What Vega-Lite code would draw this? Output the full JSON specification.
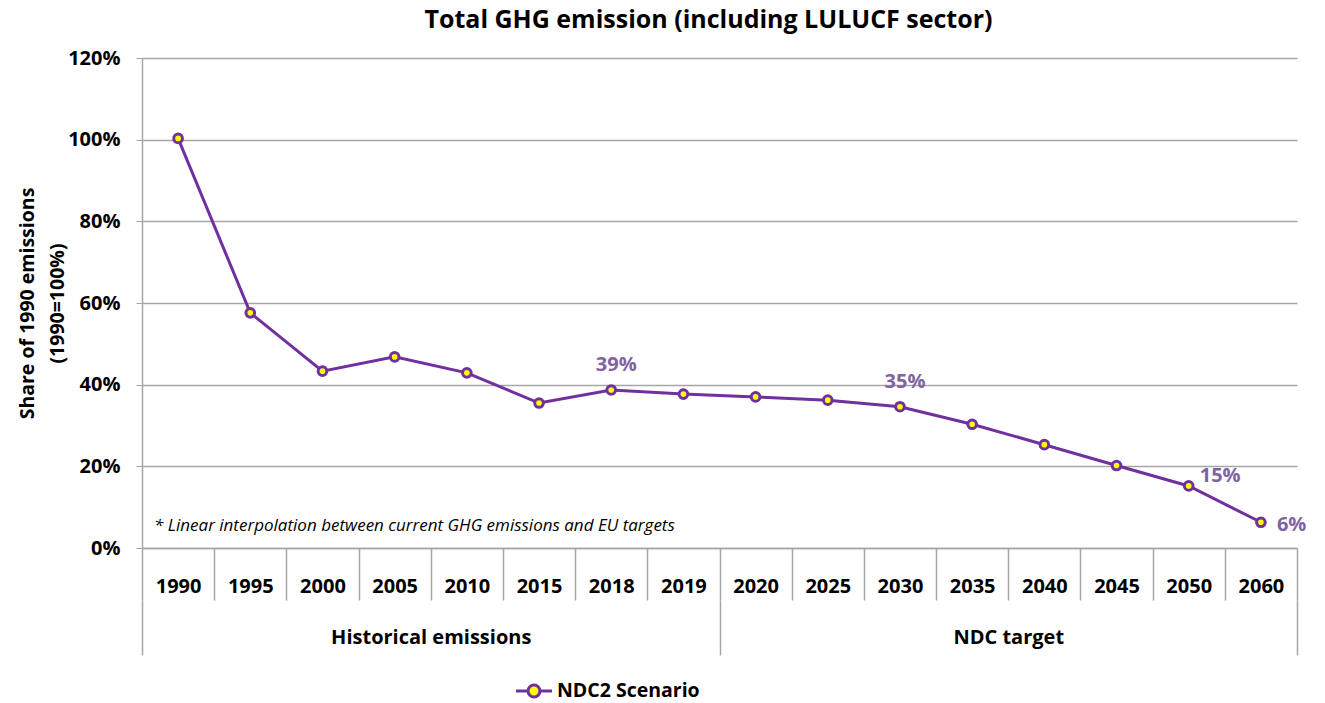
{
  "$schema": "https://vega.github.io/schema/vega-lite/v6.json",
  "width": 1155,
  "height": 490,
  "autosize": {"type": "none"},
  "padding": {"left": 142, "top": 58, "right": 28, "bottom": 155},
  "background": "white",
  "config": {
    "font": "Open Sans",
    "view": {"stroke": null},
    "axis": {"labelFont": "Open Sans", "titleFont": "Open Sans"},
    "legend": {"labelFont": "Open Sans"}
  },
  "title": {
    "text": "Total GHG emission (including LULUCF sector)",
    "font": "Open Sans",
    "fontSize": 25,
    "fontWeight": "bold",
    "color": "#000000",
    "anchor": "middle",
    "offset": 15,
    "dx": -11
  },
  "datasets": {
    "main": [
      {"year": "1990", "share": 1.003, "series": "NDC2 Scenario", "label": null},
      {"year": "1995", "share": 0.576, "series": "NDC2 Scenario", "label": null},
      {"year": "2000", "share": 0.433, "series": "NDC2 Scenario", "label": null},
      {"year": "2005", "share": 0.468, "series": "NDC2 Scenario", "label": null},
      {"year": "2010", "share": 0.429, "series": "NDC2 Scenario", "label": null},
      {"year": "2015", "share": 0.355, "series": "NDC2 Scenario", "label": null},
      {"year": "2018", "share": 0.387, "series": "NDC2 Scenario", "label": "39%"},
      {"year": "2019", "share": 0.377, "series": "NDC2 Scenario", "label": null},
      {"year": "2020", "share": 0.370, "series": "NDC2 Scenario", "label": null},
      {"year": "2025", "share": 0.362, "series": "NDC2 Scenario", "label": null},
      {"year": "2030", "share": 0.346, "series": "NDC2 Scenario", "label": "35%"},
      {"year": "2035", "share": 0.303, "series": "NDC2 Scenario", "label": null},
      {"year": "2040", "share": 0.253, "series": "NDC2 Scenario", "label": null},
      {"year": "2045", "share": 0.202, "series": "NDC2 Scenario", "label": null},
      {"year": "2050", "share": 0.152, "series": "NDC2 Scenario", "label": "15%"},
      {"year": "2060", "share": 0.063, "series": "NDC2 Scenario", "label": "6%"}
    ],
    "groups": [
      {"group": "Historical emissions"},
      {"group": "NDC target"}
    ],
    "notes": [
      {"year": "1990", "share": 0.055, "note": "* Linear interpolation between current GHG emissions and EU targets"}
    ]
  },
  "resolve": {"scale": {"x": "independent"}, "axis": {"x": "independent"}},
  "layer": [
    {
      "data": {"name": "main"},
      "layer": [
        {
          "mark": {"type": "line", "strokeWidth": 3},
          "encoding": {
            "x": {
              "field": "year", "type": "ordinal", "sort": null, "bandPosition": 0.5,
              "scale": {"type": "band", "paddingInner": 0, "paddingOuter": 0},
              "axis": {
                "title": null, "orient": "bottom", "labelAngle": 0,
                "domain": true, "domainColor": "#a6a6a6", "domainWidth": 1.5,
                "ticks": true, "tickBand": "extent", "tickSize": 52, "tickColor": "#a6a6a6", "tickWidth": 1.5,
                "labelPadding": -24, "labelFontSize": 20, "labelFontWeight": "bold", "labelColor": "#000000",
                "grid": false
              }
            },
            "y": {
              "field": "share", "type": "quantitative",
              "scale": {"domain": [0, 1.2], "nice": false, "zero": true},
              "axis": {
                "title": ["Share of 1990 emissions", "(1990=100%)"],
                "titleFontSize": 19.5, "titleFontWeight": "bold", "titleColor": "#000000",
                "titlePadding": 0, "titleLineHeight": 30,
                "values": [0, 0.2, 0.4, 0.6, 0.8, 1.0, 1.2], "format": ".0%",
                "labelFontSize": 20, "labelFontWeight": "bold", "labelColor": "#000000", "labelPadding": 16,
                "domain": true, "domainColor": "#a6a6a6", "domainWidth": 1.5,
                "ticks": true, "tickSize": 6, "tickColor": "#a6a6a6",
                "grid": true, "gridColor": "#a6a6a6", "gridWidth": 1.3
              }
            },
            "color": {
              "field": "series", "type": "nominal",
              "scale": {"domain": ["NDC2 Scenario"], "range": ["#7030a0"]},
              "legend": {
                "title": null, "orient": "none", "legendX": 372, "legendY": 613,
                "symbolType": "M-1,0L-0.33,0M0.33,0L1,0M-0.33,0A0.33,0.33 0 1,0 0.33,0A0.33,0.33 0 1,0 -0.33,0",
                "symbolSize": 1300, "symbolStrokeWidth": 3,
                "labelFontSize": 19.5, "labelFontWeight": "bold", "labelColor": "#000000", "labelOffset": 3, "labelLimit": 0,
                "encode": {"symbols": {"update": {"fill": {"value": "#ffff00"}, "stroke": {"value": "#7030a0"}}}}
              }
            }
          }
        },
        {
          "mark": {"type": "point", "filled": true, "fill": "#ffff00", "stroke": "#7030a0", "strokeWidth": 3, "size": 75, "opacity": 1},
          "encoding": {
            "x": {"field": "year", "type": "ordinal", "sort": null, "bandPosition": 0.5},
            "y": {"field": "share", "type": "quantitative"}
          }
        },
        {
          "transform": [{"filter": "datum.year == '2018' || datum.year == '2030'"}],
          "mark": {"type": "text", "dy": -25, "dx": 5, "align": "center", "fontSize": 20, "fontWeight": "bold", "color": "#8064a2", "font": "Open Sans"},
          "encoding": {
            "x": {"field": "year", "type": "ordinal", "sort": null, "bandPosition": 0.5},
            "y": {"field": "share", "type": "quantitative"},
            "text": {"field": "label"}
          }
        },
        {
          "transform": [{"filter": "datum.year == '2050'"}],
          "mark": {"type": "text", "dx": 11, "dy": -10, "align": "left", "fontSize": 20, "fontWeight": "bold", "color": "#8064a2", "font": "Open Sans"},
          "encoding": {
            "x": {"field": "year", "type": "ordinal", "sort": null, "bandPosition": 0.5},
            "y": {"field": "share", "type": "quantitative"},
            "text": {"field": "label"}
          }
        },
        {
          "transform": [{"filter": "datum.year == '2060'"}],
          "mark": {"type": "text", "dx": 16, "dy": 3, "align": "left", "fontSize": 20, "fontWeight": "bold", "color": "#8064a2", "font": "Open Sans"},
          "encoding": {
            "x": {"field": "year", "type": "ordinal", "sort": null, "bandPosition": 0.5},
            "y": {"field": "share", "type": "quantitative"},
            "text": {"field": "label"}
          }
        },
        {
          "data": {"name": "notes"},
          "mark": {"type": "text", "align": "left", "dx": -24, "fontSize": 17, "fontStyle": "italic", "color": "#000000", "font": "Open Sans"},
          "encoding": {
            "x": {"field": "year", "type": "ordinal", "sort": null, "bandPosition": 0.5},
            "y": {"field": "share", "type": "quantitative"},
            "text": {"field": "note"}
          }
        }
      ]
    },
    {
      "data": {"name": "groups"},
      "mark": {"type": "point", "opacity": 0},
      "encoding": {
        "x": {
          "field": "group", "type": "nominal", "sort": null, "bandPosition": 0.5,
          "scale": {"type": "band", "paddingInner": 0, "paddingOuter": 0},
          "axis": {
            "title": null, "orient": "bottom", "offset": 52, "labelAngle": 0,
            "domain": false, "ticks": true, "tickBand": "extent", "tickSize": 55,
            "tickColor": "#a6a6a6", "tickWidth": 1.5, "labelLimit": 0,
            "labelPadding": -28, "labelFontSize": 20, "labelFontWeight": "bold", "labelColor": "#000000",
            "grid": false
          }
        }
      }
    }
  ]
}
